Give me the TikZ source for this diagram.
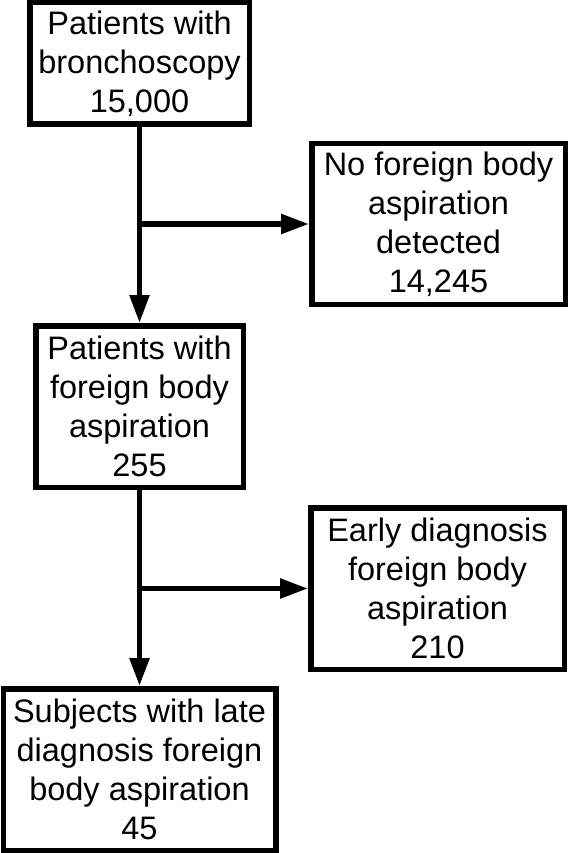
\documentclass[tikz,border=0pt]{standalone}
\usepackage{fontspec}
\setmainfont{Liberation Sans}
\usetikzlibrary{arrows.meta}
\begin{document}
\begin{tikzpicture}[x=1pt,y=-1pt,
  box/.style={draw=black, line width=5.5pt, fill=white, inner sep=0pt, align=center,
    font=\fontsize{32.5pt}{39pt}\selectfont},
  conn/.style={line width=5.5pt, -{Triangle[length=28pt,width=19pt]}}]
\useasboundingbox (0,0) rectangle (568,853);
\node[box, minimum width=219.5pt, minimum height=121.5pt] (b1) at (139.5,63.5) {Patients with\\bronchoscopy\\15,000};
\node[box, minimum width=253.5pt, minimum height=160.5pt] (b2) at (438.5,224) {No foreign body\\aspiration\\detected\\14,245};
\node[box, minimum width=207.5pt, minimum height=161.5pt] (b3) at (139.5,406.5) {Patients with\\foreign body\\aspiration\\255};
\node[box, minimum width=253.5pt, minimum height=161.5pt] (b4) at (437.5,588.5) {Early diagnosis\\foreign body\\aspiration\\210};
\node[box, minimum width=272.5pt, minimum height=161.5pt] (b5) at (139.5,769.5) {Subjects with late\\diagnosis foreign\\body aspiration\\45};
\coordinate (j1) at (b1.south |- b2.west);
\coordinate (j2) at (b3.south |- b4.west);
\draw[conn] (b1.south) -- (b3.north);
\draw[conn] (j1) -- (b2.west);
\draw[conn] (b3.south) -- (b5.north);
\draw[conn] (j2) -- (b4.west);
\end{tikzpicture}
\end{document}
